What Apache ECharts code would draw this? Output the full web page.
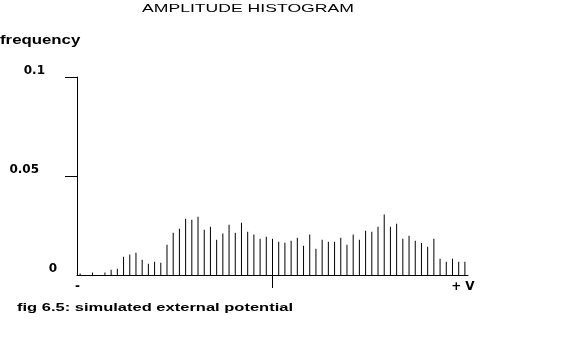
<!DOCTYPE html>
<html>
<head>
<meta charset="utf-8">
<script src="https://cdn.jsdelivr.net/npm/echarts@6/dist/echarts.min.js"></script>
<style>
html,body{margin:0;padding:0;background:#fff;}
#chart{width:578px;height:342px;}
</style>
</head>
<body>
<div id="chart"></div>
<script>
// Histogram bin frequencies, left (-) to right (+V)
const frequencies = [
  0.0007, 0, 0.0012, 0, 0.0012, 0.0027, 0.0032, 0.0092, 0.0103, 0.0113,
  0.0077, 0.0057, 0.0067, 0.0062, 0.0153, 0.0214, 0.0234, 0.0284, 0.0279, 0.0294,
  0.0229, 0.0244, 0.0178, 0.0209, 0.0254, 0.0214, 0.0264, 0.0219, 0.0204, 0.0183,
  0.0193, 0.0183, 0.0168, 0.0163, 0.0173, 0.0188, 0.0148, 0.0204, 0.0133, 0.0178,
  0.0168, 0.0168, 0.0188, 0.0153, 0.0204, 0.0178, 0.0224, 0.0219, 0.0244, 0.0305,
  0.0244, 0.0259, 0.0183, 0.0198, 0.0173, 0.0161, 0.0143, 0.0183, 0.0082, 0.0067,
  0.0082, 0.0067, 0.0067
];
const bins = frequencies.map((_, i) => i);
const xEndLabels = ['-', '+ V'];
const yTickValues = [0, 0.05, 0.1];
const yTickLabels = ['0', '0.05', '0.1'];
const titleText = 'AMPLITUDE HISTOGRAM';
const yAxisName = 'frequency';
const captionText = 'fig 6.5: simulated external potential';

const FONT = 'DejaVu Sans';
const chart = echarts.init(document.getElementById('chart'), null, {renderer: 'canvas'});
const last = bins.length - 1;
const mid = Math.floor(last / 2);

chart.setOption({
  animation: false,
  backgroundColor: '#fff',
  grid: {left: 77, right: 110, top: 77, bottom: 67, containLabel: false},
  xAxis: {
    type: 'category',
    data: bins,
    boundaryGap: true,
    axisLine: {show: true, lineStyle: {color: '#000', width: 1}},
    axisTick: {show: true, alignWithLabel: true, interval: (i) => i === mid, length: 13, lineStyle: {color: '#000'}},
    axisLabel: {
      show: true,
      interval: (i) => i === 0 || i === last,
      margin: 6,
      color: '#000',
      fontFamily: FONT,
      fontSize: 12,
      fontWeight: 'bold',
      formatter: (v, i) => (i === 0 ? '{a|' + xEndLabels[0] + '}' : '{b|' + xEndLabels[1] + '}'),
      rich: {
        a: {fontFamily: FONT, fontSize: 12, fontWeight: 'bold', color: '#000', padding: [0, 5, 0, 0]},
        b: {fontFamily: FONT, fontSize: 12, fontWeight: 'bold', color: '#000', padding: [0, 4, 0, 0]}
      }
    },
    splitLine: {show: false}
  },
  yAxis: {
    type: 'value',
    min: 0,
    max: 0.1,
    interval: 0.05,
    axisLine: {show: true, lineStyle: {color: '#000', width: 1}},
    axisTick: {show: true, customValues: [0.05, 0.1], length: 12, lineStyle: {color: '#000'}},
    splitLine: {show: false},
    axisLabel: {
      margin: 20,
      color: '#000',
      verticalAlign: 'bottom',
      fontFamily: FONT,
      fontSize: 12,
      fontWeight: 'bold',
      formatter: (v) => {
        const k = yTickValues.findIndex(t => Math.abs(t - v) < 1e-9);
        const txt = k >= 0 ? yTickLabels[k] : '';
        if (k === 2) return '{p|' + txt + '}';
        if (k === 1) return '{q|' + txt + '}';
        return '{r|' + txt + '}';
      },
      rich: {
        p: {fontFamily: FONT, fontSize: 12, fontWeight: 'bold', color: '#000', padding: [0, 12, 0, 0]},
        q: {fontFamily: FONT, fontSize: 12, fontWeight: 'bold', color: '#000', padding: [0, 18, 0, 0]},
        r: {fontFamily: FONT, fontSize: 12, fontWeight: 'bold', color: '#000', padding: [0, 0, 0, 0]}
      }
    }
  },
  graphic: [
    {type: 'text', x: 142, y: 3, scaleX: 1.6, style: {text: titleText, fill: '#000', font: '11px "Liberation Sans"'}},
    {type: 'text', x: 0, y: 35, scaleX: 1.4, style: {text: yAxisName, fill: '#000', font: 'bold 12px "Liberation Sans"'}},
    {type: 'text', x: 17, y: 302, scaleX: 1.5, style: {text: captionText, fill: '#000', font: 'bold 11px "Liberation Sans"'}}
  ],
  series: [{
    type: 'bar',
    data: frequencies,
    barWidth: 1,
    itemStyle: {color: '#000'},
    silent: true
  }]
});
</script>
</body>
</html>
